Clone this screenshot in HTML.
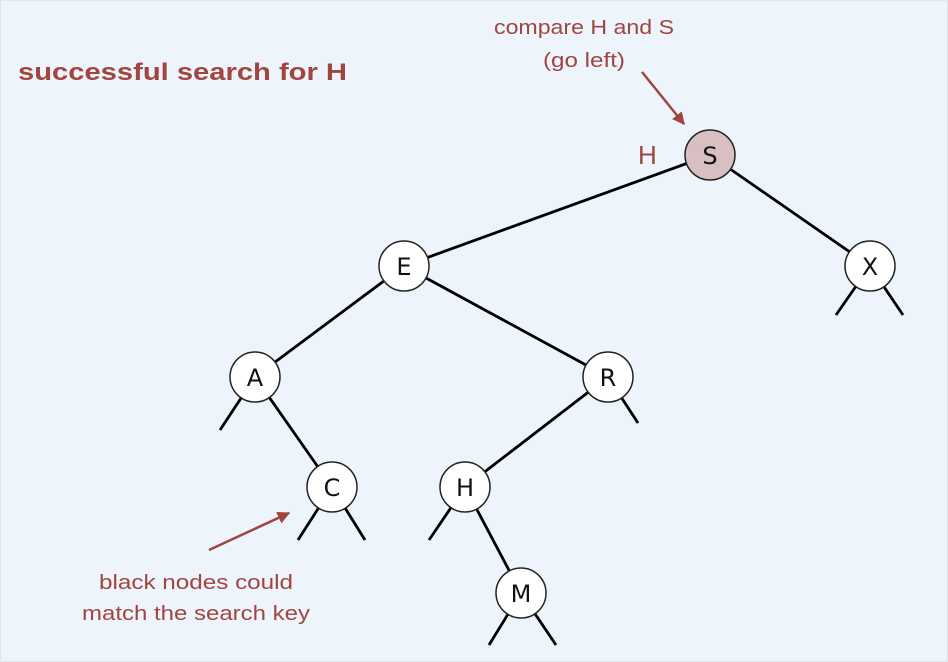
<!DOCTYPE html>
<html><head><style>
html,body{margin:0;padding:0;background:#eef4fc;}
svg{display:block;}
</style></head><body>
<svg width="948" height="662" viewBox="0 0 948 662" xmlns="http://www.w3.org/2000/svg">
<rect x="0.5" y="0.5" width="947" height="661" fill="#eef4fc" stroke="#dfe6ee"/>
<defs><marker id="ah" viewBox="0 0 10 10" refX="9" refY="5" markerWidth="5" markerHeight="5" orient="auto"><path d="M0,0 L10,5 L0,10 z" fill="#a0453f"/></marker></defs>
<g font-family="'Liberation Sans',sans-serif" fill="#a0453f">
<text x="18" y="80" font-size="24" font-weight="bold" textLength="329" lengthAdjust="spacingAndGlyphs">successful search for H</text>
<text x="494" y="34" font-size="20" textLength="180" lengthAdjust="spacingAndGlyphs">compare H and S</text>
<text x="543" y="67" font-size="20" textLength="82" lengthAdjust="spacingAndGlyphs">(go left)</text>
<text x="638" y="164" font-size="26">H</text>
<text x="99" y="589" font-size="20" textLength="194" lengthAdjust="spacingAndGlyphs">black nodes could</text>
<text x="82" y="620" font-size="20" textLength="228" lengthAdjust="spacingAndGlyphs">match the search key</text>
</g>
<g stroke="#a0453f" stroke-width="2.5" marker-end="url(#ah)">
<line x1="642" y1="72" x2="684" y2="124"/>
<line x1="209" y1="550" x2="289" y2="513"/>
</g>
<g stroke="#000" stroke-width="2.8" fill="none">
<line x1="710" y1="155" x2="404" y2="266"/>
<line x1="710" y1="155" x2="870" y2="266"/>
<line x1="870" y1="266" x2="836" y2="315"/>
<line x1="870" y1="266" x2="903" y2="315"/>
<line x1="404" y1="266" x2="255" y2="377"/>
<line x1="404" y1="266" x2="608" y2="377"/>
<line x1="255" y1="377" x2="220" y2="430"/>
<line x1="255" y1="377" x2="332" y2="487"/>
<line x1="608" y1="377" x2="465" y2="487"/>
<line x1="608" y1="377" x2="638" y2="423"/>
<line x1="332" y1="487" x2="298" y2="540"/>
<line x1="332" y1="487" x2="365" y2="540"/>
<line x1="465" y1="487" x2="429" y2="540"/>
<line x1="465" y1="487" x2="521" y2="593"/>
<line x1="521" y1="593" x2="489" y2="645"/>
<line x1="521" y1="593" x2="556" y2="645"/>
</g>
<g stroke="#222" stroke-width="1.5" fill="#fff">
<circle cx="710" cy="155" r="25" fill="#d8bfc2"/>
<circle cx="870" cy="266" r="25"/>
<circle cx="404" cy="266" r="25"/>
<circle cx="255" cy="377" r="25"/>
<circle cx="608" cy="377" r="25"/>
<circle cx="332" cy="487" r="25"/>
<circle cx="465" cy="487" r="25"/>
<circle cx="521" cy="593" r="25"/>
</g>
<g font-family="'DejaVu Sans','Liberation Sans',sans-serif" font-size="24" text-anchor="middle" fill="#111">
<text x="710" y="164">S</text>
<text x="870" y="275">X</text>
<text x="404" y="275">E</text>
<text x="255" y="386">A</text>
<text x="608" y="386">R</text>
<text x="332" y="496">C</text>
<text x="465" y="496">H</text>
<text x="521" y="602">M</text>
</g>
</svg>
</body></html>
